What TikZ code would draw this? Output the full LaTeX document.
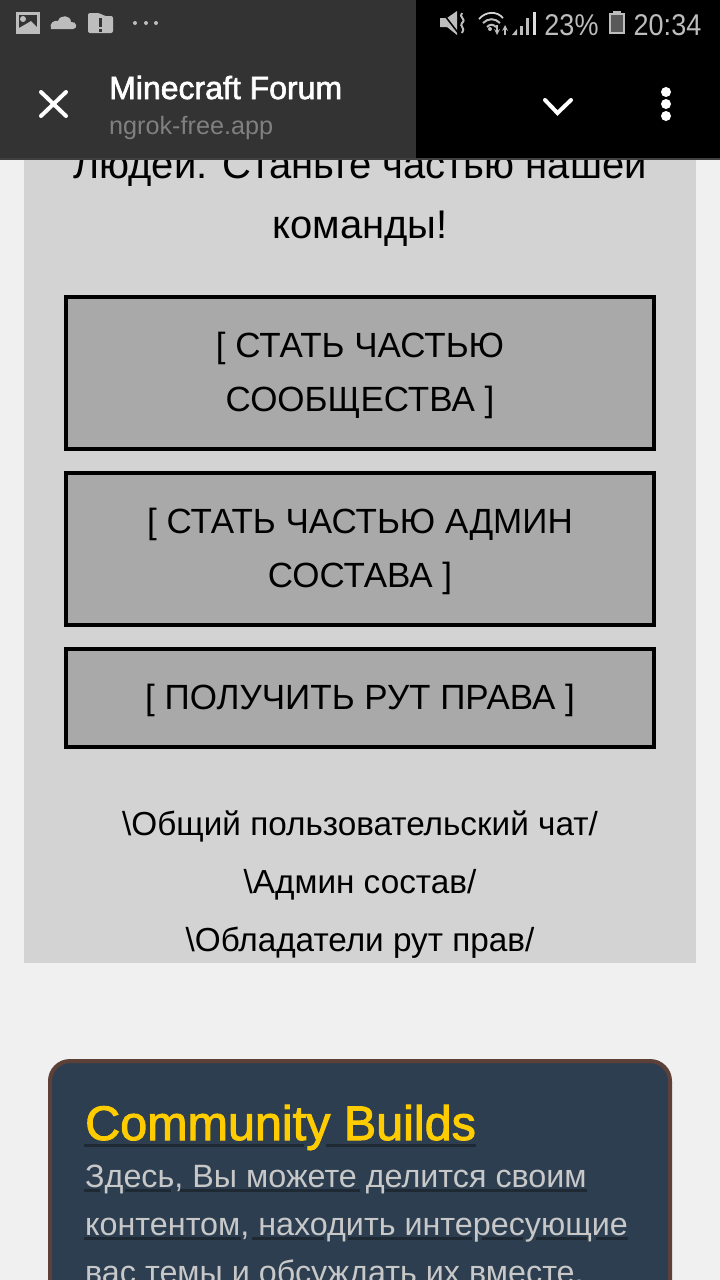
\documentclass[tikz,border=0pt]{standalone}
\usepackage{fontspec}
\setmainfont{Liberation Sans}
\newfontfamily\mediumfont[FakeBold=2]{Liberation Sans}
\newfontfamily\statusfont[FakeStretch=0.9]{Liberation Sans}
\definecolor{pagebg}{HTML}{F0F0F0}
\definecolor{panelbg}{HTML}{D3D3D3}
\definecolor{btnbg}{HTML}{A9A9A9}
\definecolor{barbg}{HTML}{333333}
\definecolor{cardbg}{HTML}{2C3E50}
\definecolor{cardedge}{HTML}{5D4037}
\definecolor{cardtitle}{HTML}{FFCC00}
\definecolor{cardtext}{HTML}{C8C8C8}
\definecolor{cardshade}{HTML}{1F2933}
\definecolor{statusgray}{HTML}{BDBDBD}
\tikzset{
  btn/.style={draw=black,line width=4pt,fill=btnbg,minimum width=588pt,inner sep=0pt},
  btntext/.style={align=center,inner sep=0pt,yshift=-2pt,font=\fontsize{35}{54}\selectfont},
  paneltext/.style={anchor=base,font=\fontsize{40}{50}\selectfont},
  chatlink/.style={anchor=base,font=\fontsize{33.3}{40}\selectfont},
  cardline/.style={anchor=base west,inner sep=0pt,text=cardtext,font=\fontsize{32.3}{40}\selectfont},
  shadebar/.style={cardshade,line width=3.5pt},
  statustext/.style={anchor=base,inner sep=0pt,text=statusgray,font=\statusfont\fontsize{30}{36}\selectfont},
  statusicon/.style={fill=statusgray,draw=none}
}

\begin{document}
\begin{tikzpicture}[x=1pt,y=-1pt]

\clip (0,0) rectangle (720,1280);
\fill[pagebg] (0,0) rectangle (720,1280);

\fill[panelbg] (24,140) rectangle (696,963);
\node[paneltext] (intro) at (360,178) {Людей. Станьте частью нашей};
\node[paneltext] (team) at (360,238) {команды!};

\node[btn,minimum height=152pt] (community) at (360,373) {};
\node[btntext] (communitytext) at (community.center) {[ СТАТЬ ЧАСТЬЮ\\СООБЩЕСТВА ]};
\node[btn,minimum height=152pt] (admin) at (360,549) {};
\node[btntext] (admintext) at (admin.center) {[ СТАТЬ ЧАСТЬЮ АДМИН\\СОСТАВА ]};
\node[btn,minimum height=98pt] (root) at (360,698) {};
\node[btntext] (roottext) at (root.center) {[ ПОЛУЧИТЬ РУТ ПРАВА ]};

\node[chatlink] (chat) at (360,835) {\textbackslash Общий пользовательский чат/};
\node[chatlink] (staff) at (360,893) {\textbackslash Админ состав/};
\node[chatlink] (owners) at (360,951) {\textbackslash Обладатели рут прав/};

\draw[cardedge,line width=4pt,fill=cardbg,rounded corners=20pt] (50,1061) rectangle (670,1320);

\draw[shadebar] (84,1145.5) -- (304,1145.5) (326,1145.5) -- (476,1145.5);
\draw[shadebar] (84,1190.5) -- (100,1190.5) (125,1190.5) -- (171,1190.5)
  (180,1190.5) -- (360,1190.5) (385,1190.5) -- (587,1190.5);
\draw[shadebar] (84,1238.5) -- (241,1238.5) (252,1238.5) -- (324,1238.5)
  (348,1238.5) -- (472,1238.5) (482,1238.5) -- (523,1238.5)
  (536,1238.5) -- (587,1238.5) (596,1238.5) -- (628,1238.5);

\node[anchor=base west,inner sep=0pt,text=cardtitle,font=\mediumfont\fontsize{48.5}{50}\selectfont] (title) at (85,1140) {Community Builds};
\node[cardline] (body1) at (85,1187) {Здесь, Вы можете делится своим};
\node[cardline] (body2) at (85,1235) {контентом, находить интересующие};
\node[cardline] (body3) at (85,1283) {вас темы и обсуждать их вместе,};

\fill[barbg] (0,0) rectangle (416,158);
\fill[black] (416,0) rectangle (720,158);
\fill[black!75] (0,158) rectangle (720,160);

\fill[statusgray] (16,12) rectangle (40,34);
\fill[barbg] (19,15) rectangle (37,28);
\fill[statusgray] (19,28) -- (26,24) -- (31,21) -- (37,27) -- (37,31) -- (19,31) -- cycle;
\fill[statusgray] (23,19) circle (3);

\fill[statusgray] (51,29) .. controls (49,23) and (54,20) .. (58,21) .. controls (60,14) and (71,15) .. (71,22)
  .. controls (77,21) and (78,29) .. (73,29) -- cycle;

\fill[statusicon,rounded corners=2pt] (88,13) -- (100,13) -- (104,16) -- (113,16) -- (113,33) -- (88,33) -- cycle;
\fill[barbg] (99,18) rectangle (102,27);
\fill[barbg] (99,28.5) rectangle (102,31.5);

\fill[statusgray] (135,23) circle (2) (146,23) circle (2) (156,23) circle (2);

\fill[statusicon] (440,18) -- (447,18) -- (457,11) -- (457,35) -- (447,27) -- (440,27) -- cycle;
\draw[black,line width=1.5pt] (442,12) -- (459,34);
\draw[statusgray,line width=2pt] (462,13) .. controls (458,17) and (467,19) .. (462,23)
  .. controls (459,26) and (466,28) .. (462,33);

\draw[statusgray!70,line width=1.8pt] (479,19) .. controls (486,11) and (497,11) .. (503,18);
\draw[statusgray,line width=2pt] (483,23) .. controls (488,18) and (495,18) .. (500,23);
\draw[statusgray,line width=2pt] (487,27) .. controls (490,24) and (493,24) .. (496,27);
\fill[statusgray] (490,29) circle (2);
\draw[statusgray,line width=1.6pt,-stealth] (497,25) -- (497,35);
\draw[statusgray,line width=1.6pt,-stealth] (505,35) -- (505,25);

\fill[statusgray] (512,35) -- (517,29) -- (517,35) -- cycle;
\fill[statusgray] (520,26) rectangle (523,35);
\fill[statusgray] (526,18) rectangle (529,35);
\fill[statusgray!50] (533,12) rectangle (536,35);

\node[statustext] (battery) at (571.5,35) {23\%};
\fill[statusgray] (613,11) rectangle (621,14);
\draw[statusgray,line width=2pt,fill=black!65] (610,14) rectangle (624,33);
\node[statustext] (clock) at (667.5,35) {20:34};

\node[anchor=base west,inner sep=0pt,text=white,font=\mediumfont\fontsize{32}{36}\selectfont] (site) at (109,99) {Minecraft Forum};
\node[anchor=base west,inner sep=0pt,text=black!50,font=\fontsize{25.2}{30}\selectfont] (host) at (109,134) {ngrok-free.app};

\draw[white,line width=4pt,line cap=round] (41,92) -- (66,116) (66,92) -- (41,116);
\draw[white,line width=4pt,line cap=round] (545,100) -- (557.5,113) -- (571,100);
\fill[white] (666,92) circle (5) (666,104) circle (5) (666,116) circle (5);

\end{tikzpicture}
\end{document}
